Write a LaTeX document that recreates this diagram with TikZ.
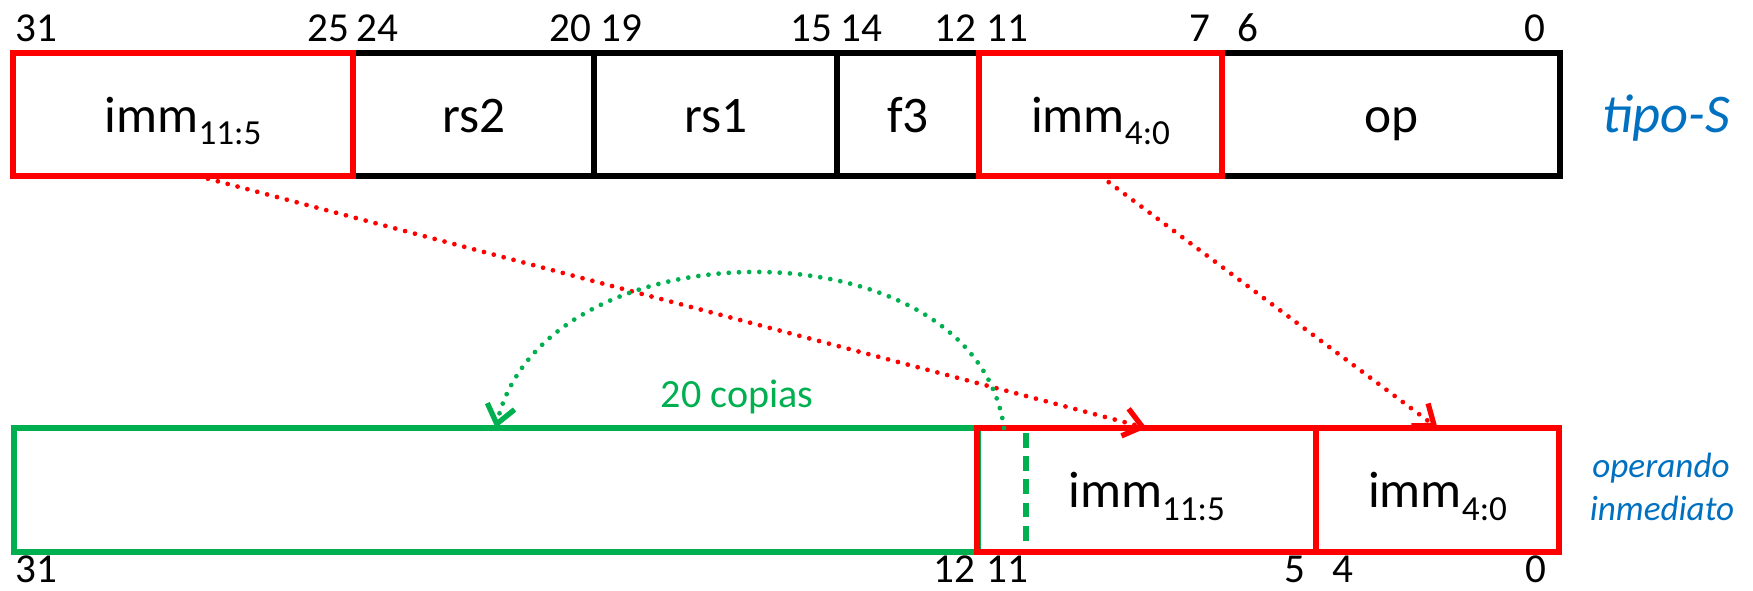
\documentclass[tikz,border=0pt]{standalone}
\usepackage{fontspec}
\setmainfont{Carlito}
\usetikzlibrary{arrows.meta}
\definecolor{pred}{HTML}{FF0000}
\definecolor{pgreen}{HTML}{00B050}
\definecolor{pblue}{HTML}{0070C0}
\newcommand\lowsub[1]{\raisebox{-0.25em}{\fontsize{10pt}{11pt}\selectfont #1}}
\begin{document}
\begin{tikzpicture}[x=0.01cm, y=-0.01cm,
  field/.style={rectangle, draw=black, line width=1.8pt, anchor=north west, inner sep=0pt, outer sep=0pt,
    minimum height=1.23cm, text height=0.35cm, text depth=0pt, font=\fontsize{14.6pt}{17pt}\selectfont},
  redf/.style={field, draw=pred},
  greenf/.style={field, draw=pgreen, minimum height=1.24cm},
  bitnum/.style={inner sep=0pt, font=\fontsize{11.7pt}{14pt}\selectfont},
  dotline/.style={line width=1.35pt, dash pattern=on 0pt off 2.9pt, line cap=round},
  barb/.style={-{Straight Barb[length=0.18cm, width=0.28cm, line width=1.5pt]}},
  bluelab/.style={text=pblue, inner sep=0pt, anchor=base},
]
\useasboundingbox (0,0) rectangle (1753,590);

% top row (tipo-S)
\node[field, minimum width=2.41cm] (rs2) at (353,53) {rs2};
\node[field, minimum width=2.43cm] (rs1) at (594,53) {rs1};
\node[field, minimum width=1.42cm] (f3) at (837,53) {f3};
\node[field, minimum width=3.38cm] (op) at (1222,53) {op};
\node[redf, minimum width=3.40cm] (immhi) at (13,53) {imm\lowsub{11:5}};
\node[redf, minimum width=2.43cm] (immlo) at (979,53) {imm\lowsub{4:0}};

% top bit numbers
\node[bitnum, anchor=base west] (t31) at (15,41) {31};
\node[bitnum, anchor=base east] (t25) at (350,41) {25};
\node[bitnum, anchor=base west] (t24) at (356,41) {24};
\node[bitnum, anchor=base east] (t20) at (592,41) {20};
\node[bitnum, anchor=base west] (t19) at (600,41) {19};
\node[bitnum, anchor=base east] (t15) at (833,41) {15};
\node[bitnum, anchor=base west] (t14) at (840,41) {14};
\node[bitnum, anchor=base east] (t12) at (977,41) {12};
\node[bitnum, anchor=base west] (t11) at (986,41) {11};
\node[bitnum, anchor=base east] (t7) at (1211,41) {7};
\node[bitnum, anchor=base west] (t6) at (1237,41) {6};
\node[bitnum, anchor=base east] (t0) at (1546,41) {0};

\node[bluelab, font=\fontsize{15.5pt}{18pt}\selectfont\itshape] (tipo) at (1666,132) {tipo-S};

% bottom row (operando inmediato)
\node[greenf, minimum width=9.63cm] (ext) at (14,428) {};
\node[redf, minimum height=1.24cm, minimum width=3.39cm] (bhi) at (977,428) {imm\lowsub{11:5}};
\node[redf, minimum height=1.24cm, minimum width=2.43cm] (blo) at (1316,428) {imm\lowsub{4:0}};

\coordinate (dtop) at (1026,433);
\coordinate (dbot) at (1026,549);
\draw[pgreen, line width=1.5pt, dash pattern=on 4.2pt off 2.4pt] (dtop) -- (dbot);

% bottom bit numbers
\node[bitnum, anchor=base west] (b31) at (15,582) {31};
\node[bitnum, anchor=base east] (b12) at (976,582) {12};
\node[bitnum, anchor=base west] (b11) at (986,582) {11};
\node[bitnum, anchor=base east] (b5) at (1306,582) {5};
\node[bitnum, anchor=base west] (b4) at (1332,582) {4};
\node[bitnum, anchor=base east] (b0) at (1547,582) {0};

\node[bluelab, font=\fontsize{10pt}{12pt}\selectfont\itshape] (oper) at (1661,477) {operando};
\node[bluelab, font=\fontsize{10pt}{12pt}\selectfont\itshape] (inmed) at (1662,520) {inmediato};

\node[text=pgreen, inner sep=0pt, anchor=base, font=\fontsize{11.4pt}{14pt}\selectfont] (copias) at (737,407) {20 copias};

% connectors
\draw[pred, dotline, barb] ([xshift=0.15cm]immhi.south) -- (bhi.north);
\draw[pred, dotline, barb] (immlo.south) -- (blo.north);
\draw[pgreen, dotline, barb] ([xshift=0.27cm]bhi.north west) .. controls +(-29,-208) and +(49,-206) .. (ext.north);
\end{tikzpicture}
\end{document}
